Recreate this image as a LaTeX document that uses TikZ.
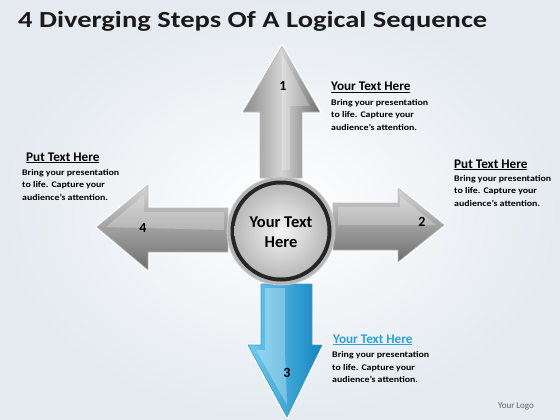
\documentclass[tikz,border=0pt]{standalone}
\usepackage{fontspec}
\setmainfont{Carlito}
\newfontfamily\widefont[FakeStretch=1.15]{Carlito}
\newfontfamily\titlefont[FakeStretch=1.24]{Carlito}
\definecolor{titlec}{HTML}{1A1A1A}
\definecolor{bluehead}{HTML}{2AA3D6}
\definecolor{bgedge}{HTML}{E4EAF0}
\definecolor{garrowL}{HTML}{8A8A8A}
\definecolor{garrowM}{HTML}{D4D4D4}
\definecolor{garrowD}{HTML}{6E6E6E}
\definecolor{barrowL}{HTML}{6CCDF0}
\definecolor{barrowD}{HTML}{1584C0}
\tikzset{
  headtxt/.style={font=\bfseries\fontsize{13.2}{15}\selectfont, inner sep=0pt, anchor=base west},
  bodytxt/.style={font=\widefont\bfseries\fontsize{8.6}{12.5}\selectfont, inner sep=0pt, anchor=north west, align=left},
  numtxt/.style={font=\bfseries\fontsize{14}{16}\selectfont, inner sep=0pt, text=black},
  arrowrim/.style={draw=white, line width=3pt, line join=round},
  arrowedge/.style={draw=gray!55, line width=0.6pt, line join=round},
}
\begin{document}
\begin{tikzpicture}[x=1pt,y=-1pt]
\useasboundingbox (0,0) rectangle (560,420);
% background
\shade[inner color=white, outer color=bgedge] (0,0) rectangle (560,420);
% title
\node[font=\titlefont\bfseries\fontsize{23}{26}\selectfont, text=titlec, inner sep=0pt, anchor=base west] (title) at (18,28) {4 Diverging Steps Of A Logical Sequence};

% up arrow
\def\uparr{(282,46) -- (320,112) -- (302,112) -- (302,178) -- (260,178) -- (260,112) -- (243,112) -- cycle}
\path[arrowrim] \uparr;
\shade[left color=garrowL, right color=garrowD, middle color=garrowM] \uparr;
\path[arrowedge] \uparr;
\fill[white, opacity=0.25] (282,54) -- (310,106) -- (290,106) -- (290,170) -- (282,170) -- cycle;

% right arrow
\def\rarr{(444,225) -- (398,188) -- (398,203) -- (333,203) -- (333,250) -- (398,250) -- (398,262) -- cycle}
\path[arrowrim] \rarr;
\shade[top color=garrowM, bottom color=garrowD] \rarr;
\path[arrowedge] \rarr;
\fill[white, opacity=0.25] (338,207) -- (400,207) -- (400,196) -- (436,225) -- (338,225) -- cycle;

% left arrow
\def\larr{(97,227) -- (148,185) -- (148,208) -- (228,208) -- (228,252) -- (148,252) -- (148,270) -- cycle}
\path[arrowrim] \larr;
\shade[top color=garrowM, bottom color=garrowD] \larr;
\path[arrowedge] \larr;
\fill[white, opacity=0.25] (106,227) -- (144,195) -- (144,212) -- (224,212) -- (224,230) -- cycle;

% down arrow (blue)
\def\darr{(287,417) -- (322,345) -- (312,345) -- (312,284) -- (261,284) -- (261,345) -- (248,345) -- cycle}
\path[arrowrim] \darr;
\shade[left color=barrowL, right color=barrowD] \darr;
\path[draw=bluehead!70!gray, line width=0.6pt, line join=round] \darr;
\fill[white, opacity=0.3] (265,288) -- (285,288) -- (285,350) -- (287,405) -- (256,350) -- (265,350) -- cycle;

% centre circle
\shade[inner color=white, outer color=gray!60] (281,231) circle (54);
\fill[black!85] (281,231) circle (50.5);
\shade[inner color=gray!8, outer color=gray!55] (281,231) circle (46.5);
\draw[gray!40, line width=0.8pt] (281,231) circle (54);

% numbers
\node[numtxt] (n1) at (283,86) {1};
\node[numtxt] (n2) at (422,222) {2};
\node[numtxt] (n3) at (287,373) {3};
\node[numtxt] (n4) at (143,228) {4};

% centre text
\node[font=\bfseries\fontsize{16.5}{20.5}\selectfont, align=center, inner sep=0pt] (ctr) at (281,232) {Your Text\\Here};

% text blocks
\node[headtxt] (h1) at (331,91) {\underline{Your Text Here}};
\node[bodytxt] (b1) at (331,99) {Bring your presentation\\to life. Capture your\\audience’s attention.};

\node[headtxt] (h4) at (26,161) {\underline{Put Text Here}};
\node[bodytxt] (b4) at (22,169) {Bring your presentation\\to life. Capture your\\audience’s attention.};

\node[headtxt] (h2) at (454,168) {\underline{Put Text Here}};
\node[bodytxt] (b2) at (454,175) {Bring your presentation\\to life. Capture your\\audience’s attention.};

\node[headtxt, text=bluehead] (h3) at (333,343) {\underline{Your Text Here}};
\node[bodytxt] (b3) at (332,351.5) {Bring your presentation\\to life. Capture your\\audience’s attention.};

\node[font=\fontsize{9}{11}\selectfont, text=gray!80!black, inner sep=0pt] (logo) at (516,406) {Your Logo};
\end{tikzpicture}
\end{document}
